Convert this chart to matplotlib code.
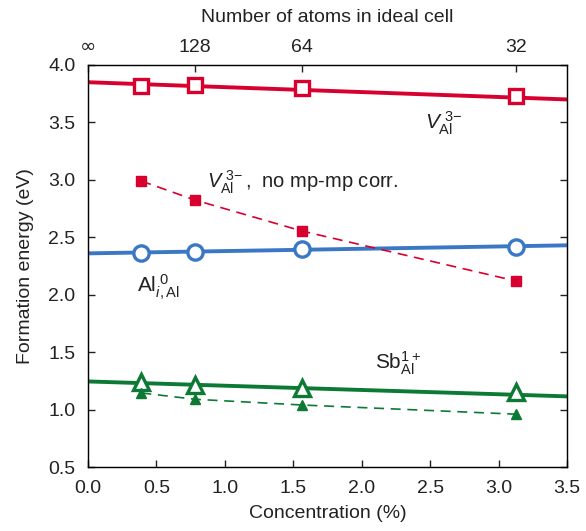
import matplotlib
matplotlib.use("Agg")
import matplotlib.pyplot as plt

plt.rcParams["font.family"] = ["Liberation Sans", "DejaVu Sans"]
plt.rcParams["mathtext.fontset"] = "custom"
plt.rcParams["mathtext.rm"] = "Liberation Sans"
plt.rcParams["mathtext.it"] = "Liberation Sans:italic"
plt.rcParams["mathtext.bf"] = "Liberation Sans:bold"

RED = "#d7002e"
BLUE = "#3a78c6"
GREEN = "#0c7a34"
INK = "#222222"

# concentration (%) of the computed supercells
conc = [0.39, 0.78, 1.5625, 3.125]

vac = [3.82, 3.83, 3.80, 3.73]
vac_nocorr = [2.99, 2.825, 2.555, 2.12]
ali = [2.36, 2.37, 2.40, 2.415]
sb = [1.24, 1.215, 1.19, 1.155]
sb_nocorr = [1.145, 1.09, 1.04, 0.96]

# extrapolation lines at x = 0 and 3.5
fit_x = [0.0, 3.5]
vac_fit = [3.85, 3.70]
ali_fit = [2.36, 2.43]
sb_fit = [1.245, 1.115]

top_ticks = [0.0, 0.78125, 1.5625, 3.125]
top_labels = ["∞", "128", "64", "32"]

FS = 14

fig = plt.figure(figsize=(5.86, 5.31), dpi=100)
ax = fig.add_axes([0.150, 0.1205, 0.8176, 0.7571])

# solid extrapolation lines
ax.plot(fit_x, vac_fit, color=RED, lw=2.8, zorder=2)
ax.plot(fit_x, ali_fit, color=BLUE, lw=2.8, zorder=2)
ax.plot(fit_x, sb_fit, color=GREEN, lw=2.8, zorder=2)

# open markers (corrected)
ax.plot(conc, vac, ls="none", marker="s", ms=10.5, mfc="white", mec=RED, mew=2.4, zorder=3)
ax.plot(conc, ali, ls="none", marker="o", ms=11, mfc="white", mec=BLUE, mew=2.4, zorder=3)
ax.plot(conc, sb, ls="none", marker="^", ms=12, mfc="white", mec=GREEN, mew=2.4, zorder=3)

# no mp-mp correction
ax.plot(conc, vac_nocorr, ls=(0, (6, 4)), lw=1.2, color=RED, marker="s", ms=7.5, zorder=3)
ax.plot(conc, sb_nocorr, ls=(0, (6, 4)), lw=1.2, color=GREEN, marker="^", ms=7.5, zorder=3)

ax.set_xlim(0, 3.5)
ax.set_ylim(0.5, 4.0)
ax.set_xticks([0.0, 0.5, 1.0, 1.5, 2.0, 2.5, 3.0, 3.5])
ax.set_yticks([0.5, 1.0, 1.5, 2.0, 2.5, 3.0, 3.5, 4.0])
ax.xaxis.set_major_formatter(matplotlib.ticker.FormatStrFormatter("%.1f"))
ax.yaxis.set_major_formatter(matplotlib.ticker.FormatStrFormatter("%.1f"))
ax.tick_params(direction="in", length=5, width=1, labelsize=FS, colors=INK, right=True)
ax.tick_params(axis="x", pad=9)
ax.tick_params(axis="y", pad=9)
ax.set_xlabel("Concentration (%)", fontsize=FS, color=INK, labelpad=6)
ax.set_ylabel("Formation energy (eV)", fontsize=FS, color=INK, labelpad=10)
for sp in ax.spines.values():
    sp.set_linewidth(1.0)
    sp.set_color(INK)

top = ax.twiny()
top.set_xlim(ax.get_xlim())
top.set_xticks(top_ticks)
top.set_xticklabels(top_labels)
top.tick_params(direction="in", length=5, width=1, labelsize=FS, colors=INK, pad=6.5)
top.set_xlabel("Number of atoms in ideal cell", fontsize=FS, color=INK, labelpad=11)
top.get_xticklabels()[0].set_fontfamily("DejaVu Sans")

ax.text(2.46, 3.44, r"$V_{\mathrm{Al}}^{\ 3\!-}$", fontsize=15, color=INK,
        ha="left", va="baseline")
ax.text(0.87, 2.93, r"$V_{\mathrm{Al}}^{\ 3\!-}$,  no mp-mp corr.", fontsize=14.5,
        color=INK, ha="left", va="baseline")
ax.text(0.36, 2.02, r"$\mathrm{Al}_{i,\mathrm{Al}}^{\ 0}$", fontsize=15, color=INK,
        ha="left", va="baseline")
ax.text(2.10, 1.35, r"$\mathrm{Sb}_{\mathrm{Al}}^{1+}$", fontsize=15, color=INK,
        ha="left", va="baseline")

fig.savefig("out.png", dpi=100)
